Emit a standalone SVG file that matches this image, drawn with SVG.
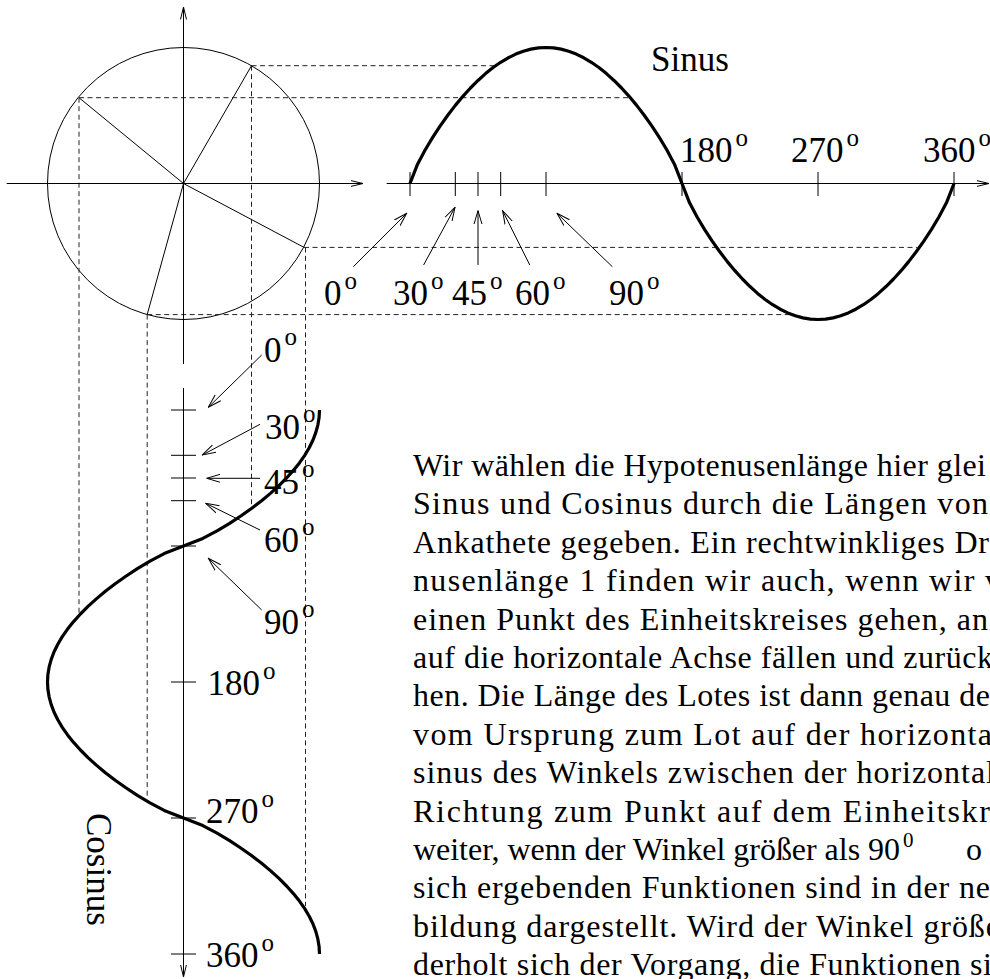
<svg xmlns="http://www.w3.org/2000/svg" width="990" height="979" viewBox="0 0 990 979">
<style>
.thin{fill:none;stroke:#000;stroke-width:1}
.dash{fill:none;stroke:#222;stroke-width:1;stroke-dasharray:5 3.5}
.curve{fill:none;stroke:#000;stroke-width:3.2;stroke-linejoin:round;stroke-linecap:butt}
.lbl{font-family:"Liberation Serif","Times New Roman",serif;font-size:35px;fill:#000}
.sup{font-size:25px}
.body{font-family:"Liberation Serif","Times New Roman",serif;font-size:32px;fill:#000}
</style>
<defs>
<marker id="ax" viewBox="0 0 13 8" refX="12.5" refY="4" markerWidth="13" markerHeight="8" markerUnits="userSpaceOnUse" orient="auto"><path d="M0,1 L12.5,4 L0,7" fill="none" stroke="#000" stroke-width="1"/></marker>
<marker id="ah" viewBox="0 0 14 10" refX="13.5" refY="5" markerWidth="14" markerHeight="10" markerUnits="userSpaceOnUse" orient="auto"><path d="M0,1 L13.5,5 L0,9" fill="none" stroke="#000" stroke-width="1"/></marker>
</defs>
<rect width="990" height="979" fill="#fff"/>

<g id="unit-circle">
<circle class="thin" cx="183.5" cy="183.5" r="136"/>
<line class="thin" x1="183.5" y1="183.5" x2="251.5" y2="65.7"/>
<line class="thin" x1="183.5" y1="183.5" x2="79" y2="97.7"/>
<line class="thin" x1="183.5" y1="183.5" x2="304" y2="247.4"/>
<line class="thin" x1="183.5" y1="183.5" x2="147.2" y2="314.6"/>
</g>

<g id="projections">
<line class="dash" x1="251.5" y1="65.7" x2="495" y2="65.7"/>
<line class="dash" x1="251.5" y1="65.7" x2="251.5" y2="507"/>
<line class="dash" x1="79" y1="97.7" x2="630" y2="97.7"/>
<line class="dash" x1="79" y1="97.7" x2="79" y2="614"/>
<line class="dash" x1="304" y1="247.4" x2="917" y2="247.4"/>
<line class="dash" x1="305.5" y1="247.4" x2="305.5" y2="906"/>
<line class="dash" x1="147.2" y1="314.6" x2="790" y2="314.6"/>
<line class="dash" x1="147.2" y1="314.6" x2="147.2" y2="799"/>
</g>

<g id="axes">
<line class="thin" x1="6.7" y1="183.5" x2="363" y2="183.5" marker-end="url(#ax)"/>
<line class="thin" x1="183.5" y1="364" x2="183.5" y2="7" marker-end="url(#ax)"/>
<line class="thin" x1="386.7" y1="183.5" x2="989" y2="183.5" marker-end="url(#ax)"/>
<line class="thin" x1="183.5" y1="388" x2="183.5" y2="977" marker-end="url(#ax)"/>
</g>

<g id="sine-ticks">
<path class="thin" d="M410,172V196 M455.3,172V196 M478,172V196 M500.7,172V196 M546,172V196 M682,172V196 M818,172V196 M954,172V196"/>
</g>
<g id="cosine-ticks">
<path class="thin" d="M171,410H196 M171,455.3H196 M171,478H196 M171,500.7H196 M171,546H196 M171,682H196 M171,818H196 M171,954H196"/>
</g>

<g id="sine-curve">
<polyline class="curve" points="410,183.5 417.56,164.19 425.11,149.98 432.67,137.37 440.22,125.85 447.78,115.21 455.33,105.38 462.89,96.32 470.44,88 478,80.44 485.56,73.61 493.11,67.56 500.67,62.28 508.22,57.8 515.78,54.1 523.33,51.23 530.89,49.16 538.44,47.91 546,47.5 553.56,47.91 561.11,49.16 568.67,51.23 576.22,54.1 583.78,57.8 591.33,62.28 598.89,67.56 606.44,73.61 614,80.44 621.56,88 629.11,96.32 636.67,105.38 644.22,115.21 651.78,125.85 659.33,137.37 666.89,149.98 674.44,164.19 682,183.5 689.56,202.81 697.11,217.02 704.67,229.63 712.22,241.15 719.78,251.79 727.33,261.62 734.89,270.68 742.44,279 750,286.56 757.56,293.39 765.11,299.44 772.67,304.72 780.22,309.2 787.78,312.9 795.33,315.77 802.89,317.84 810.44,319.09 818,319.5 825.56,319.09 833.11,317.84 840.67,315.77 848.22,312.9 855.78,309.2 863.33,304.72 870.89,299.44 878.44,293.39 886,286.56 893.56,279 901.11,270.68 908.67,261.62 916.22,251.79 923.78,241.15 931.33,229.63 938.89,217.02 946.44,202.81 954,183.5"/>
<text class="lbl" x="651" y="71">Sinus</text>
</g>

<g id="cosine-curve">
<polyline class="curve" points="319.5,410 319.09,417.56 317.84,425.11 315.77,432.67 312.9,440.22 309.2,447.78 304.72,455.33 299.44,462.89 293.39,470.44 286.56,478 279,485.56 270.68,493.11 261.62,500.67 251.79,508.22 241.15,515.78 229.63,523.33 217.02,530.89 202.81,538.44 183.5,546 164.19,553.56 149.98,561.11 137.37,568.67 125.85,576.22 115.21,583.78 105.38,591.33 96.32,598.89 88,606.44 80.44,614 73.61,621.56 67.56,629.11 62.28,636.67 57.8,644.22 54.1,651.78 51.23,659.33 49.16,666.89 47.91,674.44 47.5,682 47.91,689.56 49.16,697.11 51.23,704.67 54.1,712.22 57.8,719.78 62.28,727.33 67.56,734.89 73.61,742.44 80.44,750 88,757.56 96.32,765.11 105.38,772.67 115.21,780.22 125.85,787.78 137.37,795.33 149.98,802.89 164.19,810.44 183.5,818 202.81,825.56 217.02,833.11 229.63,840.67 241.15,848.22 251.79,855.78 261.62,863.33 270.68,870.89 279,878.44 286.56,886 293.39,893.56 299.44,901.11 304.72,908.67 309.2,916.22 312.9,923.78 315.77,931.33 317.84,938.89 319.09,946.44 319.5,954"/>
<text class="lbl" transform="translate(87,813) rotate(90)">Cosinus</text>
</g>

<g id="connectors">
<line class="thin" x1="353.3" y1="266.7" x2="406.7" y2="213.3" marker-end="url(#ah)"/>
<line class="thin" x1="423.6" y1="265" x2="455" y2="207.3" marker-end="url(#ah)"/>
<line class="thin" x1="478" y1="265" x2="478" y2="210.7" marker-end="url(#ah)"/>
<line class="thin" x1="529.8" y1="265" x2="502.6" y2="210.7" marker-end="url(#ah)"/>
<line class="thin" x1="612.3" y1="266.7" x2="557" y2="213.3" marker-end="url(#ah)"/>
<line class="thin" x1="261.7" y1="355" x2="208.3" y2="407.3" marker-end="url(#ah)"/>
<line class="thin" x1="260" y1="424.3" x2="202.3" y2="455" marker-end="url(#ah)"/>
<line class="thin" x1="260" y1="478.3" x2="206.7" y2="478.3" marker-end="url(#ah)"/>
<line class="thin" x1="260" y1="530" x2="205.7" y2="503.3" marker-end="url(#ah)"/>
<line class="thin" x1="261.7" y1="610" x2="208.3" y2="558.3" marker-end="url(#ah)"/>
</g>

<g id="sine-labels" class="lbl">
<text x="324" y="305">0<tspan class="sup" dx="3" dy="-16.5">o</tspan></text>
<text x="393" y="305">30<tspan class="sup" dx="3" dy="-16.5">o</tspan></text>
<text x="452" y="305">45<tspan class="sup" dx="3" dy="-16.5">o</tspan></text>
<text x="515" y="305">60<tspan class="sup" dx="3" dy="-16.5">o</tspan></text>
<text x="609" y="305">90<tspan class="sup" dx="3" dy="-16.5">o</tspan></text>
<text x="680" y="162">180<tspan class="sup" dx="3" dy="-16.5">o</tspan></text>
<text x="791" y="162">270<tspan class="sup" dx="3" dy="-16.5">o</tspan></text>
<text x="923" y="162">360<tspan class="sup" dx="3" dy="-16.5">o</tspan></text>
</g>

<g id="cosine-labels" class="lbl">
<text x="264" y="362">0<tspan class="sup" dx="3" dy="-17">o</tspan></text>
<text x="265" y="438.5">30<tspan class="sup" dx="3" dy="-17">o</tspan></text>
<text x="264" y="493.5">45<tspan class="sup" dx="3" dy="-17">o</tspan></text>
<text x="264" y="552">60<tspan class="sup" dx="3" dy="-17">o</tspan></text>
<text x="264" y="633.5">90<tspan class="sup" dx="3" dy="-17">o</tspan></text>
<text x="207.5" y="695">180<tspan class="sup" dx="3" dy="-16">o</tspan></text>
<text x="206" y="823">270<tspan class="sup" dx="3" dy="-16">o</tspan></text>
<text x="206" y="967">360<tspan class="sup" dx="3" dy="-16">o</tspan></text>
</g>

<g id="body-text" class="body">
<text x="413" y="476" textLength="573" lengthAdjust="spacing">Wir wählen die Hypotenusenlänge hier glei</text>
<text x="413" y="514.4" textLength="575" lengthAdjust="spacing">Sinus und Cosinus durch die Längen von</text>
<text x="413" y="552.8" textLength="576" lengthAdjust="spacing">Ankathete gegeben. Ein rechtwinkliges Dr</text>
<text x="413" y="591.2" textLength="588" lengthAdjust="spacing">nusenlänge 1 finden wir auch, wenn wir v</text>
<text x="413" y="629.6" textLength="575" lengthAdjust="spacing">einen Punkt des Einheitskreises gehen, an</text>
<text x="413" y="668" textLength="580" lengthAdjust="spacing">auf die horizontale Achse fällen und zurück</text>
<text x="413" y="706.4" textLength="577" lengthAdjust="spacing">hen. Die Länge des Lotes ist dann genau de</text>
<text x="413" y="744.8" textLength="579" lengthAdjust="spacing">vom Ursprung zum Lot auf der horizonta</text>
<text x="413" y="783.2" textLength="582" lengthAdjust="spacing">sinus des Winkels zwischen der horizontal</text>
<text x="413" y="821.6" textLength="577" lengthAdjust="spacing">Richtung zum Punkt auf dem Einheitskr</text>
<text x="413" y="860" textLength="487" lengthAdjust="spacing">weiter, wenn der Winkel größer als 90</text>
<text x="903" y="847" font-size="21">0</text>
<text x="966" y="860">o</text>
<text x="413" y="898.4" textLength="577" lengthAdjust="spacing">sich ergebenden Funktionen sind in der ne</text>
<text x="413" y="936.8" textLength="587" lengthAdjust="spacing">bildung dargestellt. Wird der Winkel größe</text>
<text x="413" y="975.2" textLength="579" lengthAdjust="spacing">derholt sich der Vorgang, die Funktionen si</text>
</g>
</svg>
